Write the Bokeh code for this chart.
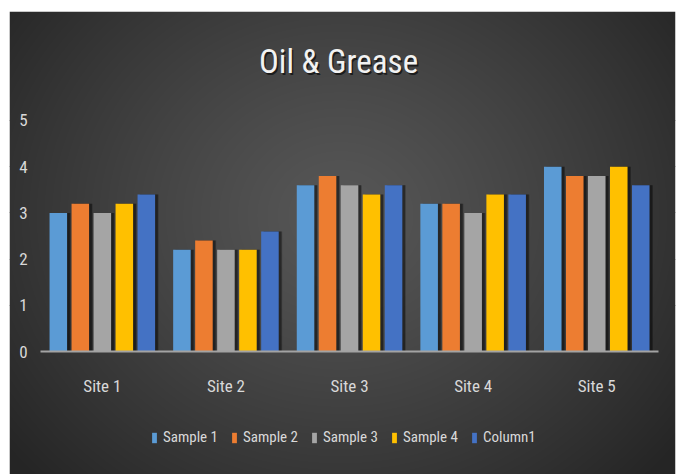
import numpy as np
from bokeh.plotting import figure
from bokeh.models import (Range1d, FixedTicker, Grid, Label, Legend, LegendItem,
                          ColumnDataSource, LinearAxis)
from bokeh.embed import file_html
from bokeh.resources import INLINE

# ---- data -------------------------------------------------------------
sites = ["Site 1", "Site 2", "Site 3", "Site 4", "Site 5"]
series_names = ["Sample 1", "Sample 2", "Sample 3", "Sample 4", "Column1"]
sample1 = [3.0, 2.2, 3.6, 3.2, 4.0]
sample2 = [3.2, 2.4, 3.8, 3.2, 3.8]
sample3 = [3.0, 2.2, 3.6, 3.0, 3.8]
sample4 = [3.2, 2.2, 3.4, 3.4, 4.0]
column1 = [3.4, 2.6, 3.6, 3.4, 3.6]
y_ticks = [0, 1, 2, 3, 4, 5]
series_values = [sample1, sample2, sample3, sample4, column1]
colors = ["#5B9BD5", "#ED7D31", "#A5A5A5", "#FFC000", "#4472C4"]

FONT = "Roboto Condensed"
TEXT = "#d9d9d9"
W, H = 676, 474
LEFT, TOP, RIGHT = 9, 11, 1

x_lo, x_hi = -0.751, 4.637
y_lo, y_hi = -2.662, 7.359

p = figure(width=W, height=H, x_range=Range1d(x_lo, x_hi), y_range=Range1d(y_lo, y_hi),
           x_axis_type=None, y_axis_type=None, output_backend="svg", toolbar_location=None,
           min_border_left=LEFT, min_border_top=TOP, min_border_right=RIGHT, min_border_bottom=0,
           border_fill_color="white", outline_line_color=None)
p.xgrid.visible = False
p.ygrid.visible = False

# ---- radial background shading over the frame ----------------------------
fw, fh = W - LEFT - RIGHT, H - TOP
px = np.arange(fw) + LEFT + 0.5
py = (H - 0.5) - np.arange(fh)          # row 0 is the bottom of the frame
PX, PY = np.meshgrid(px, py)
cx, cy, rx, ry = 340.0, 215.0, 430.0, 380.0
d = np.clip(np.sqrt(((PX - cx) / rx) ** 2 + ((PY - cy) / ry) ** 2), 0, 1)
shade = (0x57 + (0x25 - 0x57) * d ** 1.2).astype(np.uint8)
rgba = np.empty((fh, fw, 4), dtype=np.uint8)
rgba[..., 0] = shade
rgba[..., 1] = shade
rgba[..., 2] = shade
rgba[..., 3] = 255
img = rgba.view(dtype=np.uint32).reshape(fh, fw)
p.image_rgba(image=[img], x=x_lo, y=y_lo, dw=x_hi - x_lo, dh=y_hi - y_lo)

# ---- gridlines & axes ---------------------------------------------------
grid = Grid(dimension=1, ticker=FixedTicker(ticks=y_ticks[1:]), bounds=(-0.5, 4.5),
            grid_line_color="#5b5b5b", grid_line_width=1)
p.add_layout(grid)

yaxis = LinearAxis(fixed_location=-0.5, ticker=FixedTicker(ticks=y_ticks),
                   axis_line_color=None, major_tick_line_color=None,
                   minor_tick_line_color=None, major_label_standoff=7,
                   major_label_text_color=TEXT, major_label_text_font=FONT,
                   major_label_text_font_size="17px")
p.add_layout(yaxis, "left")

# ---- bars ---------------------------------------------------------------
pitch, bw = 0.178, 0.142
idx = np.arange(len(sites))
items = []
for k, (name, vals, col) in enumerate(zip(series_names, series_values, colors)):
    xs = idx + (k - 2) * pitch
    src = ColumnDataSource(dict(x=xs, top=vals))
    shadow = ColumnDataSource(dict(x=xs + 0.022, top=vals))
    p.vbar(x="x", top="top", bottom=0, width=bw + 0.012, source=shadow,
           fill_color="black", fill_alpha=0.22, line_color=None)
    p.vbar(x="x", top="top", bottom=0, width=bw, source=shadow,
           fill_color="black", fill_alpha=0.35, line_color=None)
    r = p.vbar(x="x", top="top", bottom=0, width=bw, source=src,
               fill_color=col, line_color=None)
    items.append(LegendItem(label=name, renderers=[r]))

xaxis = LinearAxis(fixed_location=0, ticker=FixedTicker(ticks=list(idx)),
                   major_label_overrides={int(i): s for i, s in enumerate(sites)},
                   bounds=(-0.5, 4.5), axis_line_color="#a3a3a3", axis_line_width=2,
                   major_tick_line_color=None, minor_tick_line_color=None,
                   major_label_standoff=18, major_label_text_color=TEXT,
                   major_label_text_font=FONT, major_label_text_font_size="17px")
p.add_layout(xaxis, "below")

# ---- title --------------------------------------------------------------
title_x, title_y = 1.911, 6.27
p.add_layout(Label(x=title_x, y=title_y, x_offset=1.5, y_offset=-2, text="Oil & Grease",
                   text_align="center", text_baseline="middle", text_color="black",
                   text_alpha=0.6, text_font=FONT, text_font_size="33px"))
p.add_layout(Label(x=title_x, y=title_y, text="Oil & Grease", text_align="center",
                   text_baseline="middle", text_color="#f2f2f2", text_font=FONT,
                   text_font_size="33px"))

# ---- legend -------------------------------------------------------------
legend = Legend(items=items, orientation="horizontal", location=(142, 28),
                background_fill_alpha=0, border_line_color=None,
                label_text_color=TEXT, label_text_font=FONT,
                label_text_font_size="15px", glyph_width=6, glyph_height=13,
                label_standoff=6, spacing=13, padding=0, margin=0)
p.add_layout(legend)

open("out.html", "w").write(file_html(p, INLINE))
